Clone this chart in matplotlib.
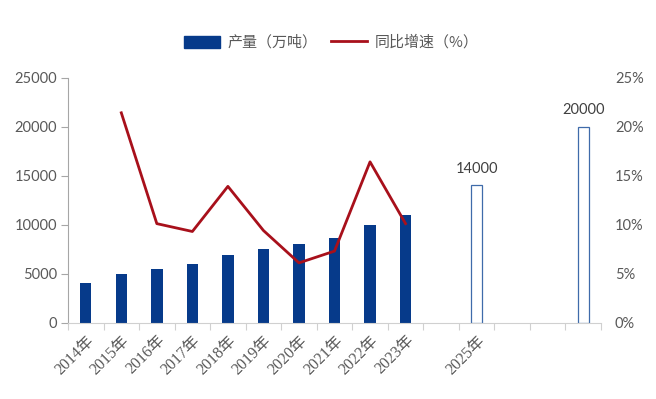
import numpy as np
import matplotlib
matplotlib.use('Agg')
import matplotlib.pyplot as plt
from matplotlib.patches import Patch
from matplotlib.lines import Line2D

plt.rcParams['font.family'] = ['Noto Sans CJK SC', 'DejaVu Sans']

# 数据
years = ['2014年', '2015年', '2016年', '2017年', '2018年', '2019年', '2020年',
         '2021年', '2022年', '2023年', '', '2025年', '', '', '']
output = [4050, 5000, 5450, 6000, 6900, 7500, 8000, 8600, 10000, 11000]
growth = [np.nan, 21.4, 10.1, 9.3, 13.9, 9.4, 6.1, 7.3, 16.4, 10.1]
target_idx = [11, 14]
target_val = [14000, 20000]

navy = '#063A8A'
red = '#A8101B'
grey = '#595959'

fig = plt.figure(figsize=(6.56, 3.99), dpi=100)
ax = fig.add_axes([68 / 656, 76.3 / 399, (601 - 68) / 656, 245.2 / 399])
ax2 = ax.twinx()

x = np.arange(len(years))
ax.bar(x[:len(output)], output, width=0.32, color=navy, zorder=2)
ax.bar(target_idx, target_val, width=0.32, facecolor='white',
       edgecolor='#3F6BAA', linewidth=0.9, zorder=2)
for i, v in zip(target_idx, target_val):
    ax.text(i, v + 1000, str(v), ha='center', va='bottom', fontsize=10.5,
            color='#404040', family=['Lato', 'DejaVu Sans'])

ax2.plot(x[:len(growth)], growth, color=red, lw=2.0, zorder=3)

ax.set_xlim(-0.5, len(years) - 0.5)
ax.set_ylim(0, 25000)
ax2.set_ylim(0, 25)
ax.set_yticks(range(0, 25001, 5000))
ax2.set_yticks(range(0, 26, 5))
ax2.set_yticklabels([f'{v}%' for v in range(0, 26, 5)])

ax.set_xticks(x)
ax.set_xticklabels(years, rotation=45, ha='right', rotation_mode='anchor',
                   fontsize=11.5, color=grey, family=['Liberation Serif', 'Noto Sans CJK SC'])
ax.set_xticks(np.arange(-0.5, len(years)), minor=True)
ax.tick_params(axis='x', which='major', length=0, pad=7)
ax.tick_params(axis='x', which='minor', length=5, color='#D0D0D0', width=0.8)
ax.tick_params(axis='y', length=5, color='#A6A6A6', width=0.8,
               labelsize=10.5, labelcolor=grey, pad=3)
ax2.tick_params(axis='y', length=0, labelsize=10.5, labelcolor=grey, pad=10)
for lab in ax.get_yticklabels() + ax2.get_yticklabels():
    lab.set_family(['Lato', 'DejaVu Sans'])

for a in (ax, ax2):
    a.spines['top'].set_visible(False)
    a.spines['right'].set_visible(False)
ax2.spines['left'].set_visible(False)
ax2.spines['bottom'].set_visible(False)
ax.spines['left'].set_color('#A6A6A6')
ax.spines['bottom'].set_color('#D0D0D0')

handles = [Patch(facecolor=navy, edgecolor=navy),
           Line2D([0], [0], color=red, lw=2.0)]
fig.legend(handles, ['产量（万吨）', '同比增速（%）'], loc='center',
           bbox_to_anchor=(0.505, 0.893), ncol=2, frameon=False,
           fontsize=10.8, labelcolor=grey, handlelength=2.4, handleheight=0.9,
           columnspacing=0.9, handletextpad=0.5)

fig.savefig('out.png', dpi=100)
